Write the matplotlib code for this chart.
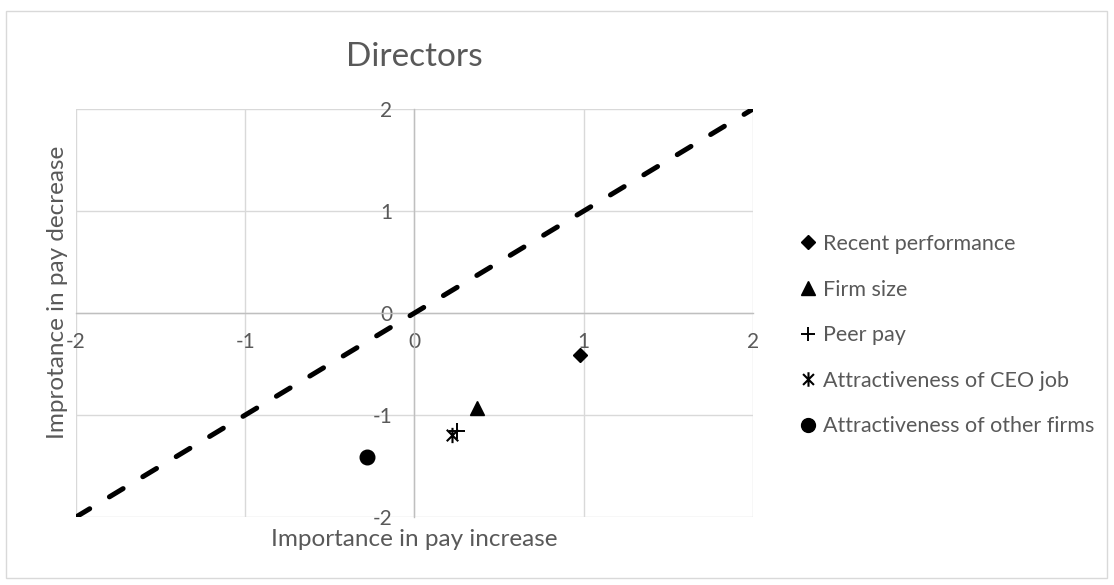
import matplotlib
matplotlib.use("Agg")
import matplotlib.pyplot as plt
from matplotlib.path import Path
from matplotlib.lines import Line2D
from matplotlib.patches import Rectangle

plt.rcParams['font.family'] = ['Lato', 'DejaVu Sans']

# ---- data ----
title = "Directors"
x_label = "Importance in pay increase"
y_label = "Improtance in pay decrease"
series_names = ["Recent performance", "Firm size", "Peer pay",
                "Attractiveness of CEO job", "Attractiveness of other firms"]
x_values = [0.98, 0.37, 0.25, 0.22, -0.28]
y_values = [-0.41, -0.93, -1.16, -1.20, -1.41]
diag_x = [-2, 2]
diag_y = [-2, 2]
ticks = [-2, -1, 0, 1, 2]
tick_labels = ["-2", "-1", "0", "1", "2"]

# ---- style ----
W, H = 1114, 585
TXT = '#595959'
GRID = '#D9D9D9'

# Excel-like asterisk: X plus vertical bar
star_path = Path(
    [(-0.75, -0.75), (0.75, 0.75), (-0.75, 0.75), (0.75, -0.75), (0, -1), (0, 1)],
    [Path.MOVETO, Path.LINETO, Path.MOVETO, Path.LINETO, Path.MOVETO, Path.LINETO])
markers = ['D', '^', '+', star_path, 'o']
msizes = [7.5, 10, 11, 11, 10.5]
mew = [1, 1, 1.4, 1.5, 1]

fig = plt.figure(figsize=(W / 100, H / 100), dpi=100)
fig.patches.append(Rectangle((6 / W, 1 - 578 / H), (1107 - 6) / W, (578 - 11) / H,
                             transform=fig.transFigure, fill=False,
                             edgecolor=GRID, linewidth=1))

ax = fig.add_axes([76 / W, 1 - 517 / H, (753 - 76) / W, (517 - 109) / H])
ax.set_xlim(-2, 2)
ax.set_ylim(-2, 2)
ax.set_xticks(ticks)
ax.set_yticks(ticks)
ax.set_xticklabels(tick_labels)
ax.set_yticklabels(tick_labels)
ax.grid(True, color=GRID, linewidth=1.0)
ax.set_axisbelow(True)
for s in ['top', 'right']:
    ax.spines[s].set_visible(False)
for s in ['left', 'bottom']:
    ax.spines[s].set_position('zero')
    ax.spines[s].set_color('#BFBFBF')
    ax.spines[s].set_linewidth(1.0)
ax.tick_params(axis='both', length=0, labelsize=15, labelcolor=TXT)
ax.tick_params(axis='x', pad=14)
ax.tick_params(axis='y', pad=16)

ax.plot(diag_x, diag_y, color='black', linewidth=3.6, linestyle=(0, (3.2, 4.6)),
        dash_capstyle='round', zorder=3)

handles = []
for name, x, y, m, ms, w in zip(series_names, x_values, y_values, markers, msizes, mew):
    ax.plot([x], [y], linestyle='none', marker=m, markersize=ms, color='black',
            markeredgewidth=w, zorder=4, clip_on=False)
    handles.append(Line2D([], [], linestyle='none', marker=m, markersize=ms * 0.95,
                          color='black', markeredgewidth=w))

ax.legend(handles, series_names, loc='upper left',
          bbox_to_anchor=(800 / W, 1 - 234 / H), bbox_transform=fig.transFigure,
          frameon=False, fontsize=15.5, labelcolor=TXT, handlelength=0.75,
          handletextpad=0.3, labelspacing=1.19, borderpad=0, borderaxespad=0)

fig.text(414 / W, 1 - 57 / H, title, ha='center', va='center', fontsize=24,
         color=TXT)
fig.text(414 / W, 1 - 539 / H, x_label, ha='center', va='center', fontsize=17.5, color=TXT)
fig.text(57 / W, 1 - 292 / H, y_label, ha='center', va='center', fontsize=17.5,
         color=TXT, rotation=90)

fig.savefig('out.png', dpi=100)
